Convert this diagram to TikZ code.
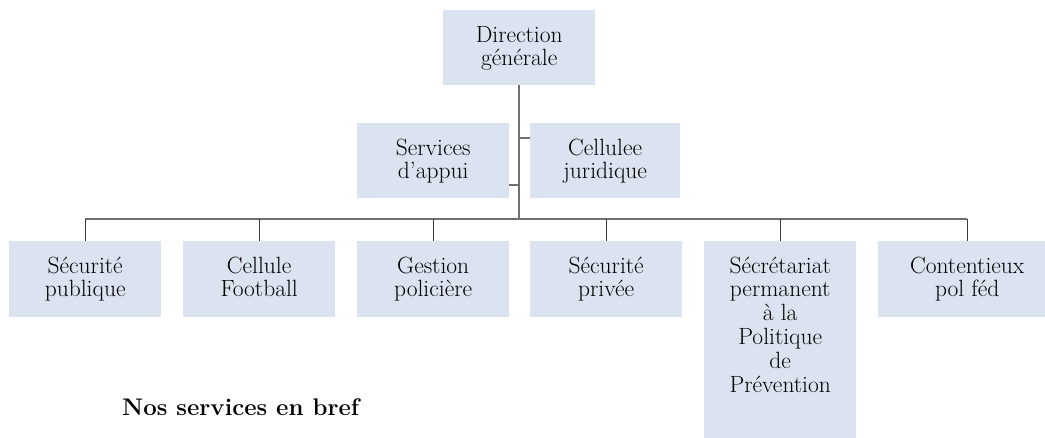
\documentclass[tikz,border=0pt]{standalone}
\usepackage{fontspec}
\definecolor{boxfill}{HTML}{DAE3EF}
\definecolor{trunkcol}{HTML}{707070}
\definecolor{dropcol}{HTML}{3A3A3A}
\newcommand\orgtext[3]{\parbox[c][#2][t]{#1}{\centering\fontsize{23.5}{23.8}\selectfont\rule{0pt}{32pt}#3\strut}}
\begin{document}
\begin{tikzpicture}[x=1pt,y=-1pt,
  orgbox/.style={fill=boxfill, inner sep=0pt, anchor=north west},
  trunk/.style={draw=trunkcol, line width=1.6pt},
  drop/.style={draw=dropcol, line width=1.3pt}]
\path[use as bounding box] (0,0) rectangle (1045,438);
\clip (0,0) rectangle (1045,438);
% top
\node[orgbox] (dg) at (443,10) {\orgtext{152pt}{75pt}{Direction\\générale}};
\node[orgbox] (sa) at (357,123) {\orgtext{152pt}{75pt}{Services\\d’appui}};
\node[orgbox] (cj) at (530,123) {\orgtext{150pt}{75pt}{Cellulee\\juridique}};
% bottom row
\node[orgbox] (b1) at (9,241) {\orgtext{152pt}{76pt}{Sécurité\\publique}};
\node[orgbox] (b2) at (183,241) {\orgtext{152pt}{76pt}{Cellule\\Football}};
\node[orgbox] (b3) at (357,241) {\orgtext{152pt}{76pt}{Gestion\\policière}};
\node[orgbox] (b4) at (530,241) {\orgtext{152pt}{76pt}{Sécurité\\privée}};
\node[orgbox] (b5) at (704,241) {\orgtext{152pt}{197pt}{Sécrétariat\\permanent\\à la\\Politique\\de\\Prévention}};
\node[orgbox] (b6) at (878,241) {\orgtext{178pt}{76pt}{Contentieux\\pol féd}};
% connectors
\coordinate (jn) at (dg.south |- 0,219);
\coordinate (hl) at (b1.north |- 0,219);
\coordinate (hr) at (b6.north |- 0,219);
\draw[trunk] (dg.south) -- (jn);
\draw[trunk] (hl) -- (hr);
\draw[trunk] (sa.east |- 0,185) -- (dg.south |- 0,185);
\draw[trunk] (cj.west |- 0,138) -- (dg.south |- 0,138);
\foreach \b in {b1,b2,b3,b4,b5,b6}{
  \draw[drop] (\b.north |- 0,219) -- (\b.north);
}
% caption
\node[anchor=base west, inner sep=0pt, font=\fontsize{24}{26}\selectfont\bfseries] (cap) at (122,416) {Nos services en bref};
\end{tikzpicture}
\end{document}
